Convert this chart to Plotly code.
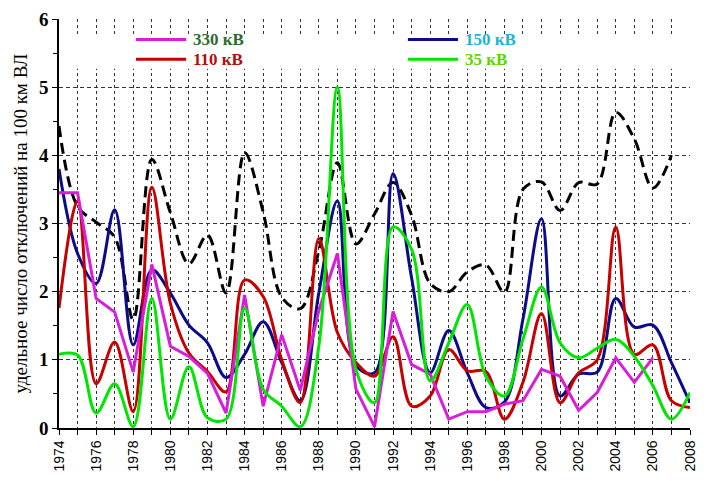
import plotly.graph_objects as go

# годы
years = list(range(1974, 2009))

# удельное число отключений на 100 км ВЛ
kv330 = [3.45, 3.45, 1.9, 1.7, 0.82, 2.4, 1.2, 1.05, 0.8, 0.22, 1.95, 0.32, 1.37, 0.55, 1.72, 2.56, 0.57,
         0.02, 1.71, 0.93, 0.79, 0.13, 0.24, 0.24, 0.35, 0.4, 0.86, 0.76, 0.26, 0.52, 1.03, 0.67, 1.03]
kv150 = [3.8, 2.56, 2.12, 3.2, 1.22, 2.32, 1.98, 1.51, 1.25, 0.74, 1.08, 1.56, 0.96, 0.40, 1.98, 3.33, 0.92,
         0.81, 3.73, 2.2, 0.81, 1.43, 0.81, 0.30, 0.38, 1.6, 3.07, 0.47, 0.79, 0.82, 1.90, 1.48, 1.51, 0.96, 0.37]
kv110 = [1.76, 3.33, 0.65, 1.26, 0.24, 3.53, 1.83, 1.10, 0.83, 0.53, 2.17, 1.93, 1.0, 0.37, 2.78, 1.40, 0.96,
         0.76, 1.34, 0.32, 0.47, 1.15, 0.84, 0.83, 0.13, 0.67, 1.68, 0.37, 0.81, 1.0, 2.95, 1.08, 1.22, 0.40, 0.30]
kv35 = [1.08, 1.07, 0.22, 0.65, 0.02, 1.90, 0.13, 0.90, 0.15, 0.13, 1.76, 0.57, 0.32, 0.02, 1.2, 5.0, 0.86,
        0.37, 2.95, 2.62, 0.69, 1.25, 1.81, 0.76, 0.47, 1.30, 2.07, 1.25, 1.03, 1.17, 1.30, 1.05, 0.62, 0.13, 0.52]
total = [4.43, 3.25, 3.02, 2.8, 1.59, 3.94, 3.16, 2.41, 2.83, 1.98, 4.04, 3.17, 1.92, 1.75, 2.6, 3.89, 2.70,
         3.14, 3.60, 3.12, 2.12, 2.0, 2.29, 2.39, 1.99, 3.5, 3.61, 3.19, 3.60, 3.58, 4.63, 4.24, 3.52, 4.0]

fig = go.Figure()

fig.add_trace(go.Scatter(x=years[:len(total)], y=total, mode="lines",
                         line=dict(color="black", width=3, dash="11px,6px", shape="spline", smoothing=1)))
fig.add_trace(go.Scatter(x=years, y=kv150, mode="lines",
                         line=dict(color="#0c0c8a", width=3, shape="spline", smoothing=1)))
fig.add_trace(go.Scatter(x=years, y=kv110, mode="lines",
                         line=dict(color="#c80000", width=3, shape="spline", smoothing=1)))
fig.add_trace(go.Scatter(x=years[:len(kv330)], y=kv330, mode="lines",
                         line=dict(color="#d81ed8", width=3)))
fig.add_trace(go.Scatter(x=years, y=kv35, mode="lines",
                         line=dict(color="#00e600", width=3, shape="spline", smoothing=1)))

# легенда вручную (белая полоса поверх сетки)
shapes = [dict(type="rect", xref="x", yref="y", x0=1974.05, x1=2008, y0=5.27, y1=5.77,
               fillcolor="white", line=dict(width=0), layer="above")]
legend = [("330 кВ", "#d81ed8", "#2d6b2d", 1978.15, 5.70),
          ("110 кВ", "#c80000", "#b01010", 1978.15, 5.41),
          ("150 кВ", "#0c0c8a", "#20b4d4", 1992.8, 5.70),
          ("35 кВ", "#00e600", "#5cd600", 1992.8, 5.41)]
annotations = []
for txt, lc, tc, lx, ly in legend:
    shapes.append(dict(type="line", xref="x", yref="y", x0=lx, x1=lx + 2.7, y0=ly, y1=ly,
                       line=dict(color=lc, width=3), layer="above"))
    annotations.append(dict(x=lx + 3.0, y=ly, xref="x", yref="y", text="<b>" + txt + "</b>",
                            showarrow=False, xanchor="left", yanchor="middle", borderpad=0,
                            font=dict(family="Liberation Serif", size=17, color=tc)))

fig.update_layout(
    width=707, height=481,
    margin=dict(l=59, r=9, t=17, b=52),
    paper_bgcolor="white", plot_bgcolor="white",
    showlegend=False,
    shapes=shapes, annotations=annotations,
    xaxis=dict(range=[1974, 2008], tick0=1974, dtick=2, tickangle=-90,
               tickfont=dict(family="Liberation Sans", size=14, color="black"),
               showgrid=True, gridcolor="#333333", gridwidth=1, griddash="3px,3px",
               showline=True, linecolor="black", linewidth=1.5,
               ticks="outside", ticklen=5, tickcolor="black",
               minor=dict(dtick=1, showgrid=True, gridcolor="#333333", gridwidth=1, griddash="3px,3px",
                          ticks="outside", ticklen=5, tickcolor="black"),
               zeroline=False),
    yaxis=dict(range=[0, 6], dtick=1,
               tickfont=dict(family="Liberation Serif", size=19, color="black", weight="bold"),
               showgrid=True, gridcolor="#333333", gridwidth=1, griddash="4px,3px",
               showline=True, linecolor="black", linewidth=1.5,
               ticks="outside", ticklen=5, tickcolor="black",
               minor=dict(dtick=0.5, ticks="outside", ticklen=4, tickcolor="black", showgrid=False),
               title=dict(text="удельное число отключений на 100 км ВЛ",
                          font=dict(family="Liberation Serif", size=19, color="black"), standoff=6),
               zeroline=False),
)

fig.write_html("out.html", config={"displayModeBar": False},
               post_script="document.body.style.margin='0';")
